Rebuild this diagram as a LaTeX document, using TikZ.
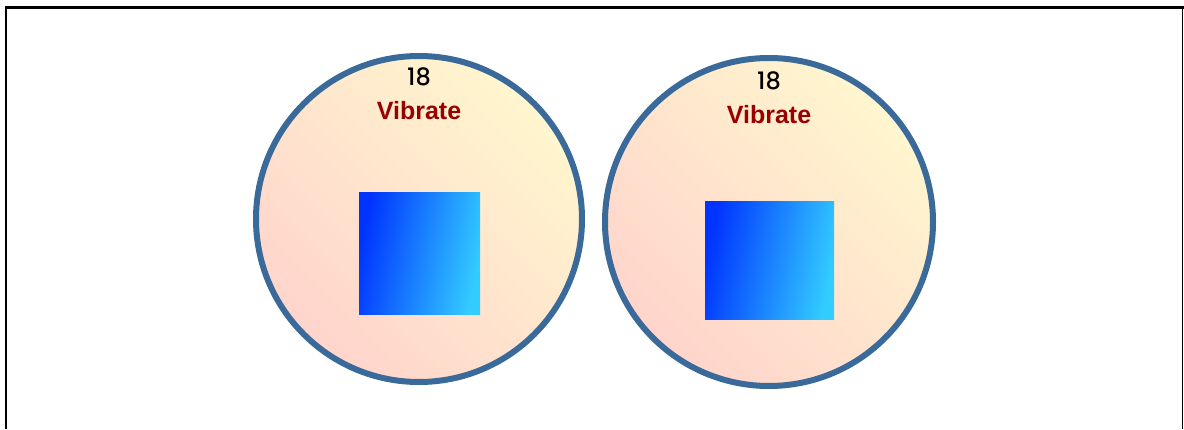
\documentclass[tikz,border=0pt]{standalone}
\usepackage{fontspec}
\setmainfont{Liberation Sans}
\newfontfamily\numfont{Poppins}[UprightFont=* Medium]
\definecolor{ringblue}{RGB}{58,106,154}
\definecolor{discyellow}{RGB}{255,246,206}
\definecolor{discpink}{RGB}{255,212,204}
\definecolor{padblue}{RGB}{0,51,255}
\definecolor{padcyan}{RGB}{51,204,255}
\definecolor{labelred}{RGB}{153,0,0}
\begin{document}
\begin{tikzpicture}[x=1pt,y=1pt,
  disc/.style={circle, draw=ringblue, line width=6pt, inner sep=0pt,
    minimum size=#1, top color=discyellow, bottom color=discpink, shading angle=-45},
  pad/.style={rectangle, inner sep=0pt, left color=padblue, right color=padcyan, shading angle=78},
  count/.style={font=\numfont\fontsize{24}{24}\selectfont, text=black},
  tag/.style={font=\fontsize{25}{25}\selectfont\bfseries, text=labelred},
  frame/.style={draw=black}]
\useasboundingbox (0,0) rectangle (1184,429);
% frame lines
\coordinate (tl) at (6,421);
\coordinate (bl) at (6,0);
\coordinate (tr) at (1184,421);
\coordinate (rt) at (1182.5,421);
\coordinate (rb) at (1182.5,0);
\draw[frame, line width=2.5pt] (tl) -- (bl);
\draw[frame, line width=3pt] ([xshift=-1.25pt]tl) -- (tr);
\draw[frame, line width=1.5pt] (rt) -- (rb);
% left disc
\node[disc=326pt] (d1) at (419,210) {};
\node[pad, minimum width=121pt, minimum height=121pt] (p1) at (419.5,175.5) {};
\node[count] (n1) at (419,352) {18};
\node[tag] (v1) at (419,318) {Vibrate};
% right disc
\node[disc=328pt] (d2) at (769,207) {};
\node[pad, minimum width=129pt, minimum height=117pt] (p2) at (769.5,168.5) {};
\node[count] (n2) at (769,348) {18};
\node[tag] (v2) at (769,314) {Vibrate};
\end{tikzpicture}
\end{document}
